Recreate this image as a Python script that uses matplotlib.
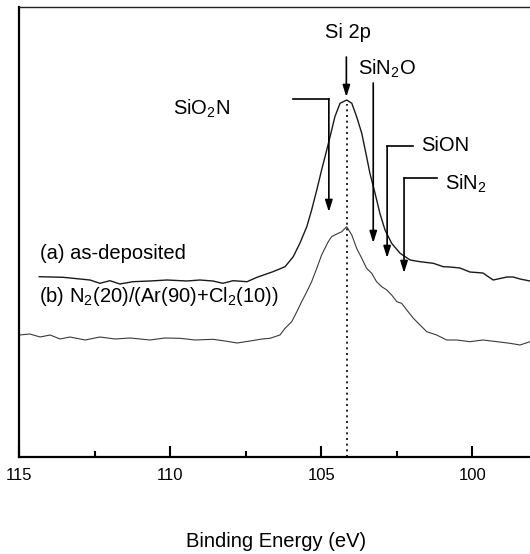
import matplotlib
matplotlib.use('Agg')
import matplotlib.pyplot as plt

plt.rcParams['font.family'] = ['Liberation Sans', 'DejaVu Sans']
plt.rcParams['mathtext.fontset'] = 'custom'
plt.rcParams['mathtext.rm'] = 'Liberation Sans'
plt.rcParams['mathtext.default'] = 'regular'

# spectre (a) : as-deposited
energy_a = [114.34, 113.55, 112.66, 112.33, 112.00, 111.67, 111.24, 110.67, 110.11,
            109.45, 109.02, 108.59, 108.26, 107.92, 107.46, 107.13, 106.60, 106.20,
            105.93, 105.71, 105.48, 105.32, 105.15, 104.99, 104.82, 104.71, 104.55,
            104.38, 104.16, 103.99, 103.83, 103.66, 103.50, 103.39, 103.22, 103.06,
            102.89, 102.67, 102.39, 102.06, 101.73, 101.29, 100.96, 100.74, 100.41,
            100.08, 99.65, 99.31, 98.85, 98.65, 98.42, 98.09, 98.0]
counts_a = [180.0, 179.4, 176.7, 173.4, 176.0, 172.7, 175.0, 175.7, 176.7,
            175.7, 176.7, 175.7, 173.4, 176.0, 175.0, 179.4, 185.0, 190.0,
            200.0, 213.4, 230.0, 246.7, 266.7, 286.7, 306.7, 320.0, 340.0,
            353.4, 356.7, 353.4, 340.0, 323.4, 300.0, 283.4, 263.4, 243.4,
            226.7, 213.4, 203.4, 196.7, 195.0, 193.4, 190.0, 189.7, 188.7,
            184.7, 183.7, 176.7, 179.7, 179.7, 177.7, 175.7, 176.0]

# spectre (b) : N2(20)/(Ar(90)+Cl2(10))
energy_b = [115.00, 114.65, 114.31, 113.98, 113.65, 113.32, 112.82, 112.33, 111.83,
            111.33, 110.67, 110.18, 109.68, 109.18, 108.59, 108.19, 107.79, 107.36,
            106.96, 106.70, 106.37, 106.20, 105.98, 105.81, 105.65, 105.48, 105.32,
            105.15, 104.99, 104.88, 104.77, 104.66, 104.55, 104.44, 104.32, 104.16,
            103.99, 103.83, 103.66, 103.50, 103.33, 103.17, 103.00, 102.83, 102.67,
            102.50, 102.34, 102.17, 101.95, 101.73, 101.51, 101.18, 100.85, 100.51,
            100.08, 99.65, 99.18, 98.75, 98.42, 98.09, 98.0]
counts_b = [121.7, 122.7, 119.7, 121.7, 117.7, 119.7, 116.7, 119.7, 117.7,
            118.7, 116.7, 118.7, 118.4, 116.7, 117.4, 115.7, 113.7, 115.7,
            117.7, 118.4, 121.7, 128.4, 135.0, 145.0, 155.0, 165.0, 175.0,
            188.4, 201.7, 208.4, 215.0, 220.0, 221.7, 223.4, 225.0, 230.0,
            221.7, 208.4, 198.4, 188.4, 183.4, 175.0, 170.0, 166.7, 161.7,
            155.0, 153.4, 146.7, 138.4, 131.7, 125.0, 121.7, 116.7, 116.7,
            115.0, 116.7, 115.0, 113.4, 111.7, 115.0, 114.0]

# position du pic Si 2p
si2p_peak = 104.16

# composantes chimiques repérées par des flèches
comp_names = ['SiO$_2$N', 'SiN$_2$O', 'SiON', 'SiN$_2$']
comp_energy = [104.75, 103.28, 102.82, 102.26]
arrow_top = [357.7, 373.7, 310.7, 278.7]
arrow_tip = [244.7, 213.7, 198.7, 183.7]
hline_end = [105.94, None, 101.97, 101.17]
label_x = [108.02, 103.79, 101.70, 100.91]
label_y = [341.7, 381.7, 306.0, 266.7]
label_ha = ['right', 'left', 'left', 'left']

fig = plt.figure(figsize=(5.30, 5.54), dpi=100)
ax = fig.add_axes([19.3 / 530, 97.3 / 554, 513.4 / 530, 450 / 554])

ax.plot(energy_a, counts_a, color='#1a1a1a', lw=1.0)
ax.plot(energy_b, counts_b, color='#3a3a3a', lw=0.8)

ax.plot([si2p_peak, si2p_peak], [0, 353], color='black', lw=1.2, ls=(0, (1.2, 2.2)))

arrow_kw = dict(arrowstyle='-|>,head_length=0.7,head_width=0.22', color='black',
                lw=1.2, shrinkA=0, shrinkB=0)

ax.annotate('', xy=(si2p_peak + 0.01, 359.7), xytext=(si2p_peak + 0.01, 399.7),
            arrowprops=arrow_kw)
ax.text(104.12, 418.7, 'Si 2p', ha='center', va='baseline', fontsize=14.5)

for name, e, top, tip, hend, tx, ty, ha in zip(comp_names, comp_energy, arrow_top,
                                               arrow_tip, hline_end, label_x, label_y,
                                               label_ha):
    if hend is not None:
        ax.plot([hend, e], [top, top], color='black', lw=1.2)
    ax.annotate('', xy=(e, tip), xytext=(e, top), arrowprops=arrow_kw)
    ax.text(tx, ty, name, ha=ha, va='baseline', fontsize=14.5)

ax.text(114.30, 197.7, '(a) as-deposited', ha='left', va='baseline', fontsize=14.5)
ax.text(114.34, 155.0, '(b) N$_2$(20)/(Ar(90)+Cl$_2$(10))', ha='left',
        va='baseline', fontsize=14.5)

ax.set_xlim(115, 98)
ax.set_ylim(0, 450)
ax.set_xticks([115, 110, 105, 100])
ax.set_xticks([112.5, 107.5, 102.5], minor=True)
ax.set_yticks([])
ax.tick_params(axis='x', which='major', direction='in', length=8, width=1.5,
               labelsize=12, pad=8)
ax.tick_params(axis='x', which='minor', direction='in', length=4, width=1.5)
ax.spines['right'].set_visible(False)
ax.spines['left'].set_linewidth(1.6)
ax.spines['bottom'].set_linewidth(1.6)
ax.spines['top'].set_linewidth(1.0)
ax.spines['top'].set_color('#222222')

ax.set_xlabel('Binding Energy (eV)', fontsize=14.5)
ax.xaxis.set_label_coords(0.5, -0.168)

fig.savefig('out.png', dpi=100)
